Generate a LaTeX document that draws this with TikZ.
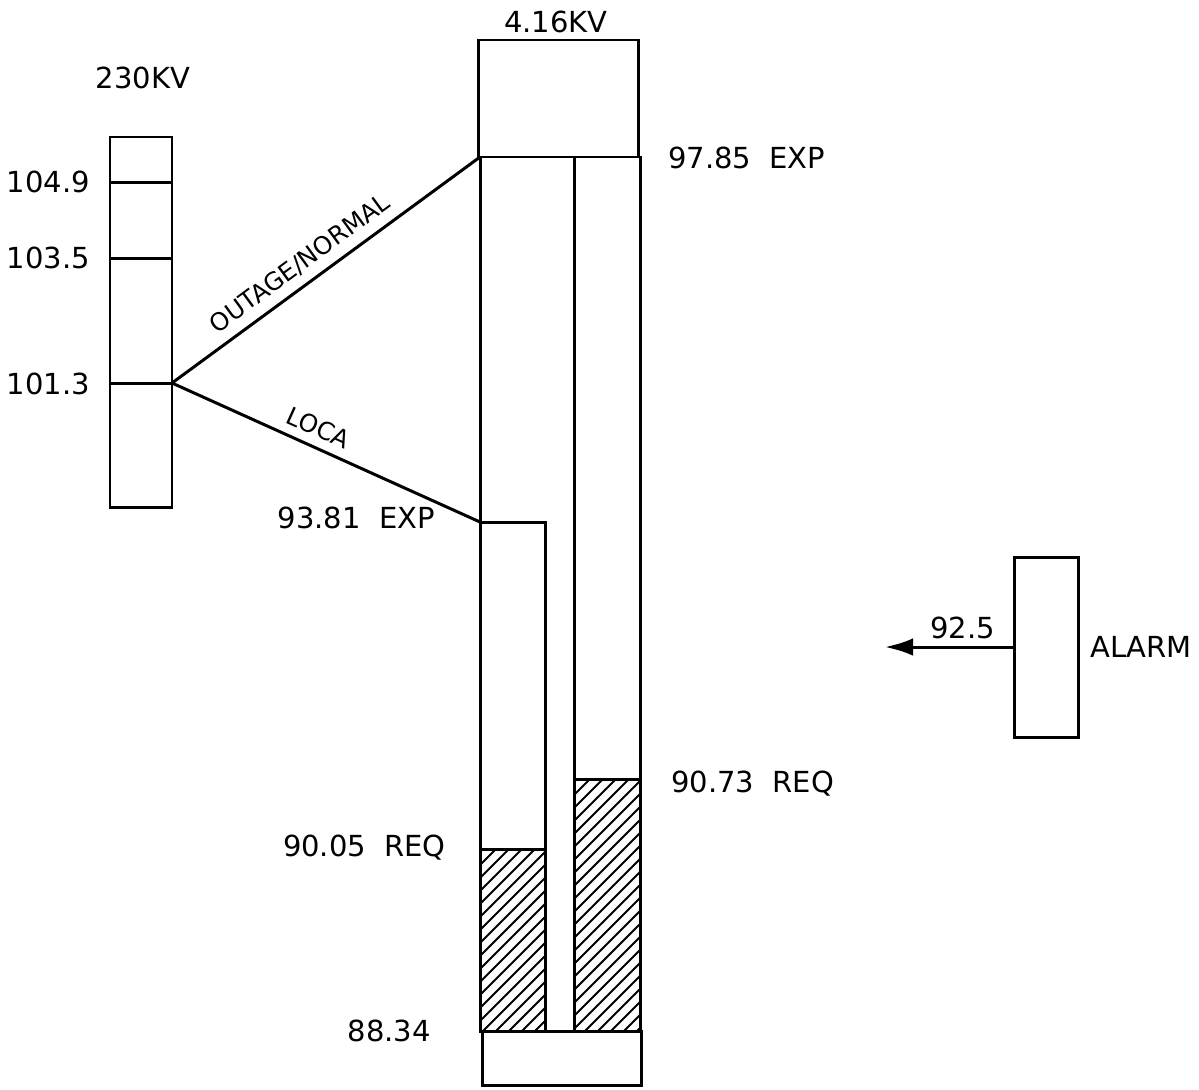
\documentclass[tikz,border=0pt]{standalone}
\usepackage{fontspec}
\setmainfont{DejaVu Sans}
\usetikzlibrary{arrows.meta}

\begin{document}
\begin{tikzpicture}[x=0.02cm,y=-0.02cm,line width=1.7pt,
  lbl/.style={font=\fontsize{16.5}{19}\selectfont, inner sep=1pt},
  slbl/.style={font=\fontsize{14}{16}\selectfont, inner sep=1pt, sloped, above=4pt},
  hatchline/.style={line width=1.1pt}]
\useasboundingbox (0,0) rectangle (1199,1089);

% 230KV bus
\draw (110,137) rectangle (172,507);
\draw (110,182) -- (172,182);
\draw (110,258) -- (172,258);
\draw (110,383) -- (172,383);
\coordinate (hv) at (172,383);
\node[lbl] (hvbus) at (143,78) {230KV};
\node[lbl, anchor=east] (v1049) at (93,182) {104.9};
\node[lbl, anchor=east] (v1035) at (93,258) {103.5};
\node[lbl, anchor=east] (v1013) at (93,384) {101.3};

% 4.16KV bus
\begin{scope}
\clip (480,849) rectangle (545,1031);
\foreach \y in {849,862,...,1120}
  \draw[hatchline] (470,\y) -- (560,\y-90);
\end{scope}
\begin{scope}
\clip (574,779) rectangle (640,1031);
\foreach \y in {779,792,...,1120}
  \draw[hatchline] (564,\y) -- (654,\y-90);
\end{scope}
\draw (478,40) rectangle (638,157);
\draw (480,157) rectangle (640,1031);
\draw (574,157) -- (574,1031);
\draw (480,522) -- (545,522) -- (545,1031);
\draw (480,849) -- (545,849);
\draw (574,779) -- (640,779);
\draw (482,1031) rectangle (641,1085);
\coordinate (expn) at (480,157);
\coordinate (expl) at (480,522);
\node[lbl] (lvbus) at (556,22) {4.16KV};
\node[lbl, anchor=west] (v9785) at (665,158) {97.85~~EXP};
\node[lbl, anchor=east] (v9381) at (438,518) {93.81~~EXP};
\node[lbl, anchor=west] (v9073) at (668,784) {90.73~~REQ};
\node[lbl, anchor=east] (v9005) at (449,848) {90.05~~REQ};
\node[lbl, anchor=east] (v8834) at (434,1031) {88.34};

\draw (hv) -- node[slbl, pos=0.455] {OUTAGE/NORMAL} (expn);
\draw (hv) -- node[slbl, pos=0.45] {LOCA} (expl);

% alarm
\draw (1014,557) rectangle (1078,737);
\coordinate (alarmtap) at (1014,647);
\coordinate (alarmend) at (885,647);
\draw[-{Latex[length=16pt,width=10pt]}] (alarmtap) -- node[lbl, pos=0.4, above=3pt] {92.5} (alarmend);
\node[lbl, anchor=west] (alarm) at (1087,647) {ALARM};
\end{tikzpicture}
\end{document}
